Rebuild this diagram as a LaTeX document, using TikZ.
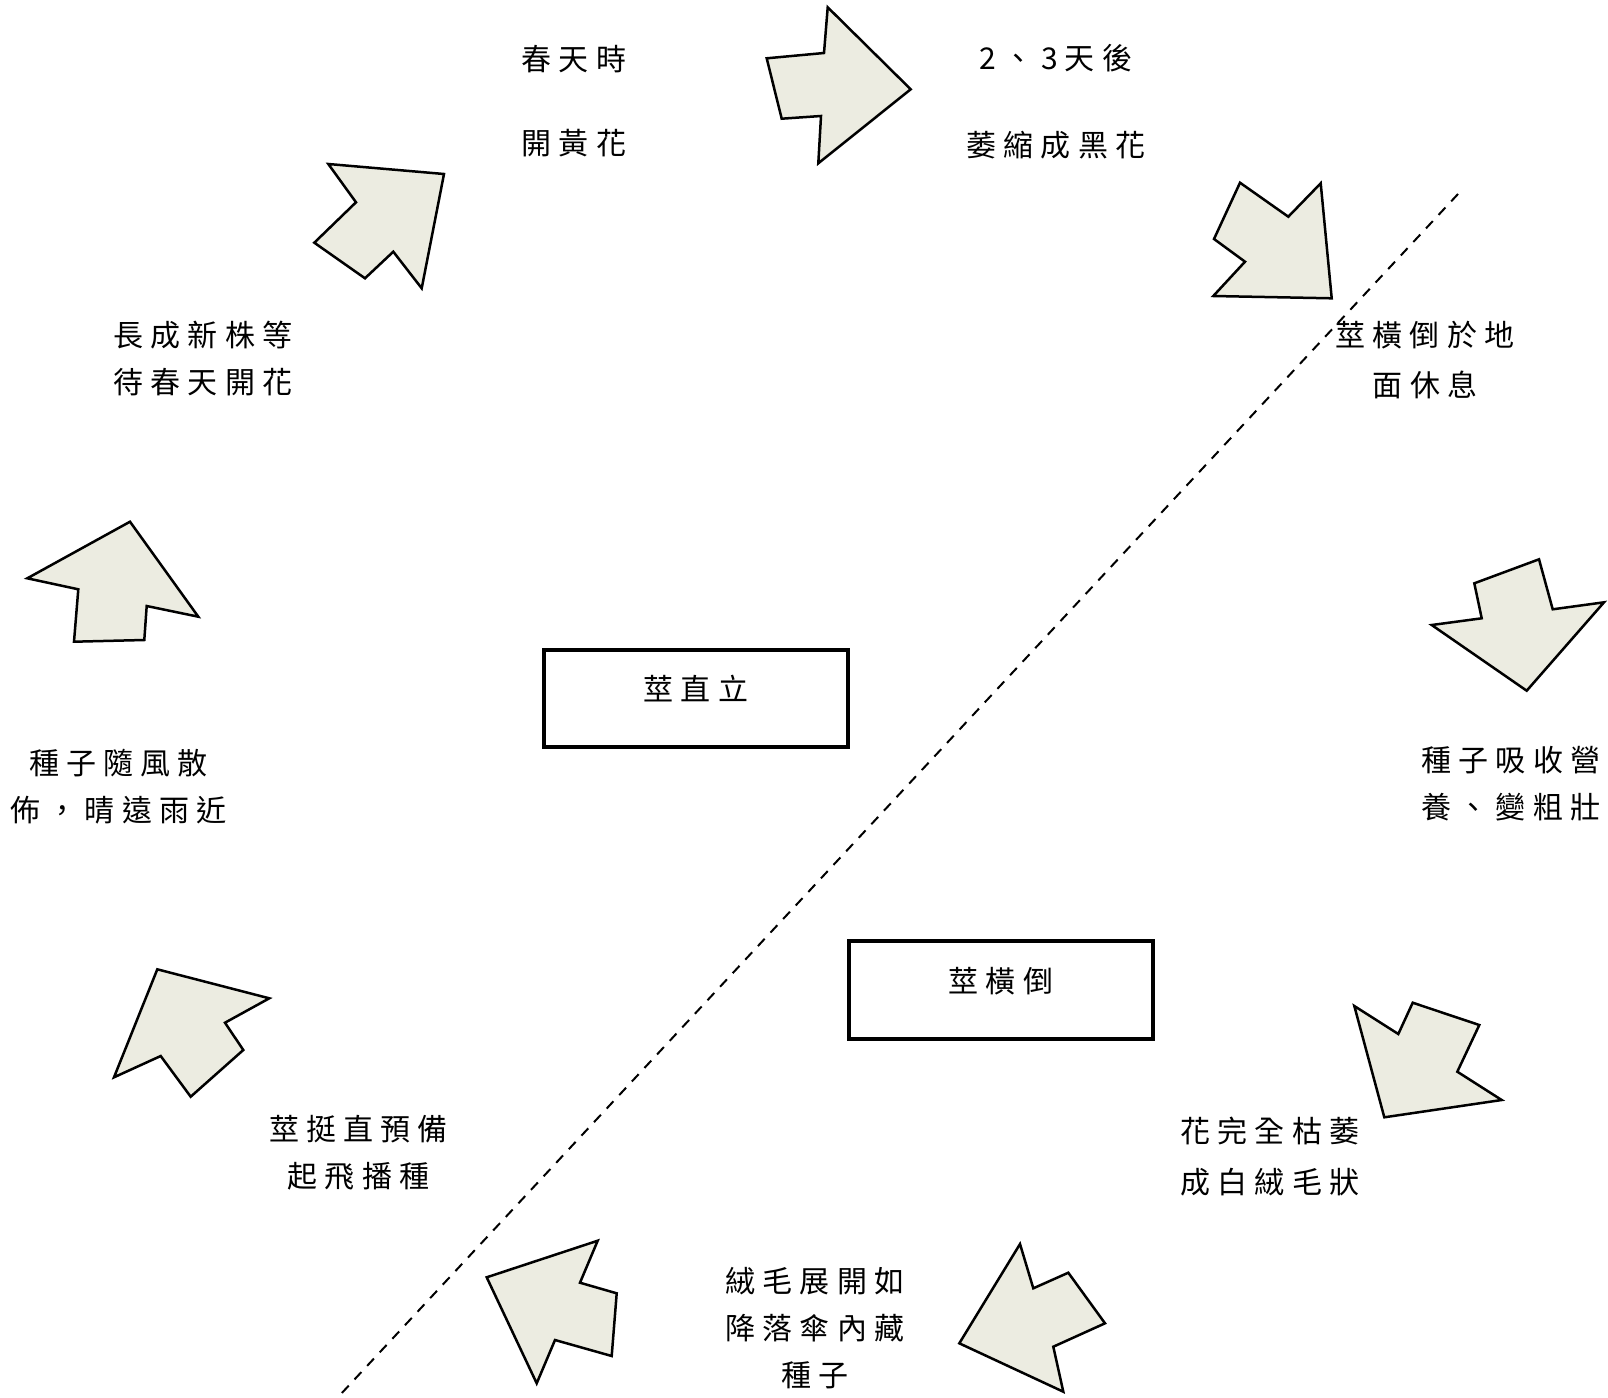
\documentclass[tikz,border=0pt]{standalone}
\usepackage{fontspec}
\newfontfamily\cjk[LetterSpace=24]{Noto Sans CJK TC}
\definecolor{arrowfill}{HTML}{ECECE1}

\begin{document}
\begin{tikzpicture}[x=1pt,y=-1pt,
  txt/.style={align=center,inner sep=0pt,font=\cjk\fontsize{30}{47}\selectfont},
  stembox/.style={draw,line width=4pt,minimum width=304pt,minimum height=97.5pt,
    text height=26pt,text depth=22pt,font=\cjk\fontsize{30}{47}\selectfont},
  blockarrow/.style={draw,fill=arrowfill,line width=2.5pt}]
\useasboundingbox (0,0) rectangle (1608,1397);
\node[txt] (s1) at (574,100.75) {春天時\\[37pt]開黃花};
\node[txt] (s2) at (1056,101.25) {2、3天後\\[40pt]萎縮成黑花};
\node[txt] (s3) at (1425,360) {莖橫倒於地\\[3pt]面休息};
\node[txt] (s4) at (1511,783.5) {種子吸收營\\養、變粗壯};
\node[txt] (s5) at (1270,1157) {花完全枯萎\\[4pt]成白絨毛狀};
\node[txt] (s6) at (815,1328) {絨毛展開如\\降落傘內藏\\種子};
\node[txt] (s7) at (358.5,1152.5) {莖挺直預備\\起飛播種};
\node[txt] (s8) at (118.5,786.5) {種子隨風散\\佈，晴遠雨近};
\node[txt] (s9) at (203,358.75) {長成新株等\\待春天開花};
\node[stembox] (b1) at (696,698.4) {莖直立};
\node[stembox] (b2) at (1001,990) {莖橫倒};
\coordinate (d1) at (1458,194);
\coordinate (d2) at (340,1395);
\draw[line width=2pt,dash pattern=on 10pt off 8.5pt] (d1) -- (d2);
\draw[blockarrow] (766.7,58.3) -- (824,53) -- (827.7,7.3) -- (910.7,89.3) -- (818.3,163.3) -- (821,116) -- (781.7,118.7) -- cycle;
\draw[blockarrow] (1240,182.7) -- (1288.3,216.7) -- (1320.7,183.3) -- (1331.7,298.3) -- (1213.3,296) -- (1245,261.7) -- (1214,239) -- cycle;
\draw[blockarrow] (1474.3,583.3) -- (1539,559.3) -- (1552.7,609.3) -- (1604,602.3) -- (1526.7,690.7) -- (1431.7,625) -- (1481.7,618.3) -- cycle;
\draw[blockarrow] (1354.3,1006) -- (1398.3,1034) -- (1412.7,1002.7) -- (1479.3,1025) -- (1457.3,1071.7) -- (1501.7,1100) -- (1384.3,1117.3) -- cycle;
\draw[blockarrow] (1020,1244) -- (1033.3,1288.3) -- (1068.3,1272.7) -- (1105,1323.3) -- (1053.3,1346.7) -- (1063.3,1391.7) -- (959.3,1343.3) -- cycle;
\draw[blockarrow] (486.7,1277.3) -- (597.7,1240.7) -- (580,1282.7) -- (616.7,1293.3) -- (611.7,1356) -- (555,1340) -- (536.7,1383.3) -- cycle;
\draw[blockarrow] (157.3,969.3) -- (269.3,998.3) -- (225,1022.7) -- (243.3,1050) -- (190.7,1096.7) -- (160.7,1056) -- (114,1077.3) -- cycle;
\draw[blockarrow] (130,521.7) -- (198.3,616.7) -- (146.7,606) -- (144.3,640) -- (74,641.7) -- (78.3,589.3) -- (27.3,578.3) -- cycle;
\draw[blockarrow] (328.3,164) -- (444,174) -- (421.7,288.3) -- (393.3,251.7) -- (365,278.3) -- (314.3,242.7) -- (356,202.3) -- cycle;
\end{tikzpicture}
\end{document}
